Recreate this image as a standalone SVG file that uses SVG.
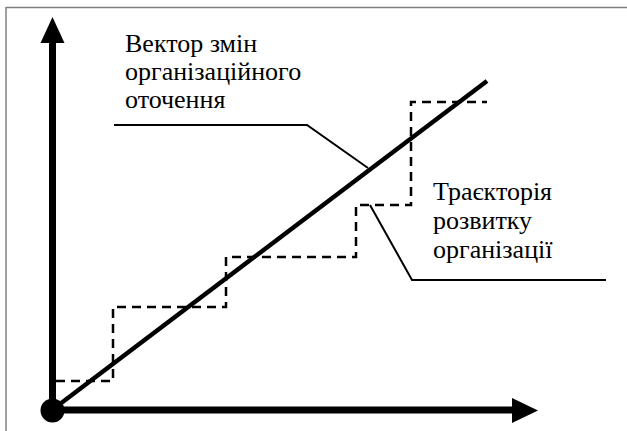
<svg xmlns="http://www.w3.org/2000/svg" width="627" height="431" viewBox="0 0 627 431">
<style>
.frame{stroke:#808080;stroke-width:1.5;fill:none}
.axis{stroke:#000;stroke-width:7;fill:none}
.vec{stroke:#000;stroke-width:4.5;fill:none}
.dash{stroke:#000;stroke-width:2.5;fill:none;stroke-dasharray:9 6}
.lead{stroke:#000;stroke-width:2;fill:none}
text{font-family:'Liberation Serif','Times New Roman',serif;font-size:26px;fill:#000}
</style>
<rect width="627" height="431" fill="#fff"/>
<g id="frame">
<line class="frame" x1="6" y1="7.5" x2="627" y2="7.5"/>
<line class="frame" x1="6" y1="7" x2="6" y2="431"/>
</g>
<g id="axes">
<line class="axis" x1="52.5" y1="410" x2="52.5" y2="40"/>
<polygon points="40.5,43 64.5,43 52.5,17" fill="#000"/>
<line class="axis" x1="52" y1="410" x2="514" y2="410"/>
<polygon points="512,398 512,423 538,410.5" fill="#000"/>
<circle cx="52.5" cy="410.5" r="12" fill="#000"/>
</g>
<g id="connectors">
<path class="dash" d="M56,381 H113 V307 H226 V257 H356 V205 H411 V102 H487"/>
<line class="vec" x1="52" y1="410" x2="487" y2="81"/>
<path class="lead" d="M114,125 H307 L368,168"/>
<path class="lead" d="M370,205 L412,280 H606"/>
</g>
<g id="label-vector">
<text x="125" y="52">Вектор змін</text>
<text x="125" y="80">організаційного</text>
<text x="125" y="108">оточення</text>
</g>
<g id="label-trajectory">
<text x="433" y="200">Траєкторія</text>
<text x="433" y="229">розвитку</text>
<text x="433" y="258">організації</text>
</g>
</svg>
